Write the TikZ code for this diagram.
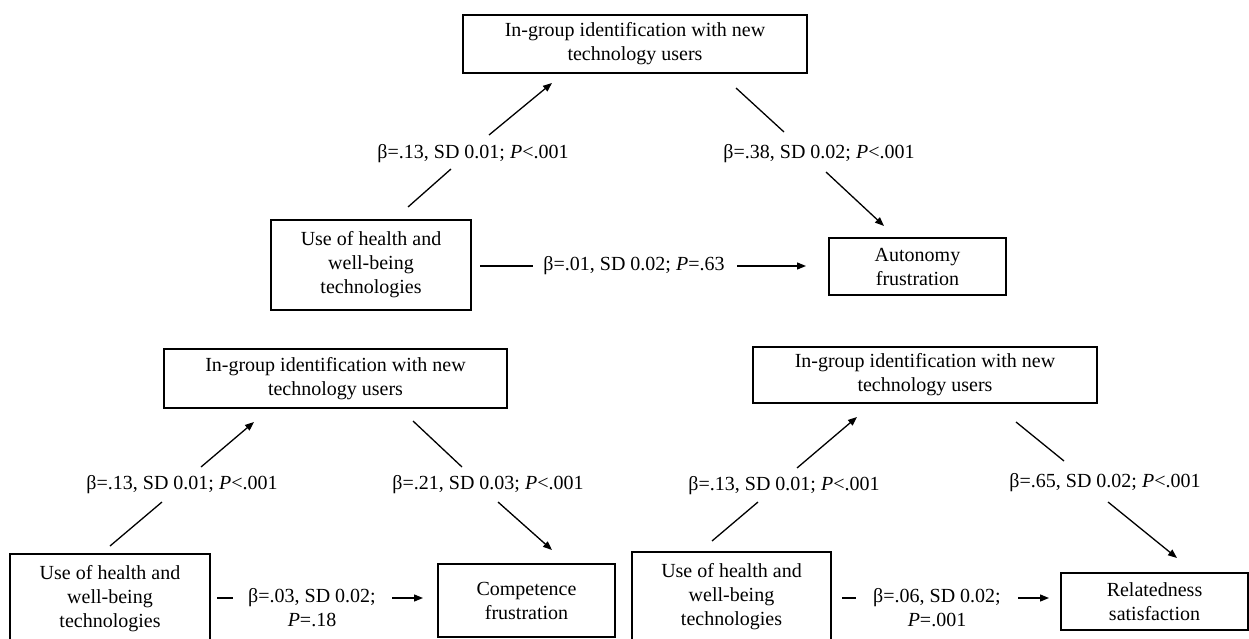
\documentclass[tikz,border=0pt]{standalone}
\usepackage{fontspec}
\setmainfont{Liberation Serif}
\usetikzlibrary{arrows.meta}
\begin{document}
\begin{tikzpicture}[x=1pt,y=-1pt,
  font=\fontsize{20}{24}\selectfont,
  box/.style={draw, line width=1.6pt, align=center, inner sep=0pt},
  lbl/.style={inner sep=0pt, align=center},
  link/.style={line width=1.3pt},
  arr/.style={link, -{Triangle[length=9pt,width=7pt]}}]
\useasboundingbox (0,0) rectangle (1249,639);
\fill[white] (0,0) rectangle (1249,639);

% ---------- panel 1 (top) ----------
\node[box, minimum width=344pt, minimum height=58pt] (top1) at (635,44) {In-group identification with new\\technology users};
\node[box, minimum width=200pt, minimum height=90pt] (use1) at (371,265) {Use of health and\\well-being\\technologies};
\node[box, minimum width=177pt, minimum height=57pt] (aut1) at (917.5,266.5) {Autonomy\\frustration};
\node[lbl] (l1a) at (473,154) {β=.13, SD 0.01; \textit{P}<.001};
\node[lbl] (l1b) at (819,154) {β=.38, SD 0.02; \textit{P}<.001};
\node[lbl] (l1c) at (634,266) {β=.01, SD 0.02; \textit{P}=.63};
\coordinate (p1a) at (408,207); \coordinate (p1b) at (451,169);
\coordinate (p1c) at (489,135); \coordinate (p1d) at (552,83);
\coordinate (p1e) at (736,88);  \coordinate (p1f) at (784,132);
\coordinate (p1g) at (826,172); \coordinate (p1h) at (884,226);
\coordinate (p1i) at (480,266); \coordinate (p1j) at (533,266);
\coordinate (p1k) at (737,266); \coordinate (p1l) at (806,266);
\draw[link] (p1a) -- (p1b);
\draw[arr] (p1c) -- (p1d);
\draw[link] (p1e) -- (p1f);
\draw[arr] (p1g) -- (p1h);
\draw[link] (p1i) -- (p1j);
\draw[arr] (p1k) -- (p1l);

% ---------- panel 2 (bottom left) ----------
\node[box, minimum width=343pt, minimum height=59pt] (top2) at (335.5,378.5) {In-group identification with new\\technology users};
\node[box, minimum width=200pt, minimum height=90pt] (use2) at (110,599) {Use of health and\\well-being\\technologies};
\node[box, minimum width=177pt, minimum height=73pt] (com2) at (526.5,600.5) {Competence\\frustration};
\node[lbl] (l2a) at (182,485) {β=.13, SD 0.01; \textit{P}<.001};
\node[lbl] (l2b) at (488,485) {β=.21, SD 0.03; \textit{P}<.001};
\node[lbl] (l2c) at (312,608) {β=.03, SD 0.02;\\\textit{P}=.18};
\coordinate (p2a) at (110,546); \coordinate (p2b) at (162,502);
\coordinate (p2c) at (201,467); \coordinate (p2d) at (254,422);
\coordinate (p2e) at (413,421); \coordinate (p2f) at (462,467);
\coordinate (p2g) at (498,502); \coordinate (p2h) at (552,550);
\coordinate (p2i) at (217,598); \coordinate (p2j) at (233,598);
\coordinate (p2k) at (392,598); \coordinate (p2l) at (423,598);
\draw[link] (p2a) -- (p2b);
\draw[arr] (p2c) -- (p2d);
\draw[link] (p2e) -- (p2f);
\draw[arr] (p2g) -- (p2h);
\draw[link] (p2i) -- (p2j);
\draw[arr] (p2k) -- (p2l);

% ---------- panel 3 (bottom right) ----------
\node[box, minimum width=344pt, minimum height=56pt] (top3) at (925,375) {In-group identification with new\\technology users};
\node[box, minimum width=199pt, minimum height=90pt] (use3) at (731.5,597) {Use of health and\\well-being\\technologies};
\node[box, minimum width=187pt, minimum height=57pt] (rel3) at (1154.5,601.5) {Relatedness\\satisfaction};
\node[lbl] (l3a) at (784,486) {β=.13, SD 0.01; \textit{P}<.001};
\node[lbl] (l3b) at (1105,483) {β=.65, SD 0.02; \textit{P}<.001};
\node[lbl] (l3c) at (937,608) {β=.06, SD 0.02;\\\textit{P}=.001};
\coordinate (p3a) at (712,541);  \coordinate (p3b) at (758,502);
\coordinate (p3c) at (797,468);  \coordinate (p3d) at (857,417);
\coordinate (p3e) at (1016,422); \coordinate (p3f) at (1064,461);
\coordinate (p3g) at (1108,502); \coordinate (p3h) at (1177,558);
\coordinate (p3i) at (842,598);  \coordinate (p3j) at (856,598);
\coordinate (p3k) at (1018,598); \coordinate (p3l) at (1049,598);
\draw[link] (p3a) -- (p3b);
\draw[arr] (p3c) -- (p3d);
\draw[link] (p3e) -- (p3f);
\draw[arr] (p3g) -- (p3h);
\draw[link] (p3i) -- (p3j);
\draw[arr] (p3k) -- (p3l);
\end{tikzpicture}
\end{document}
